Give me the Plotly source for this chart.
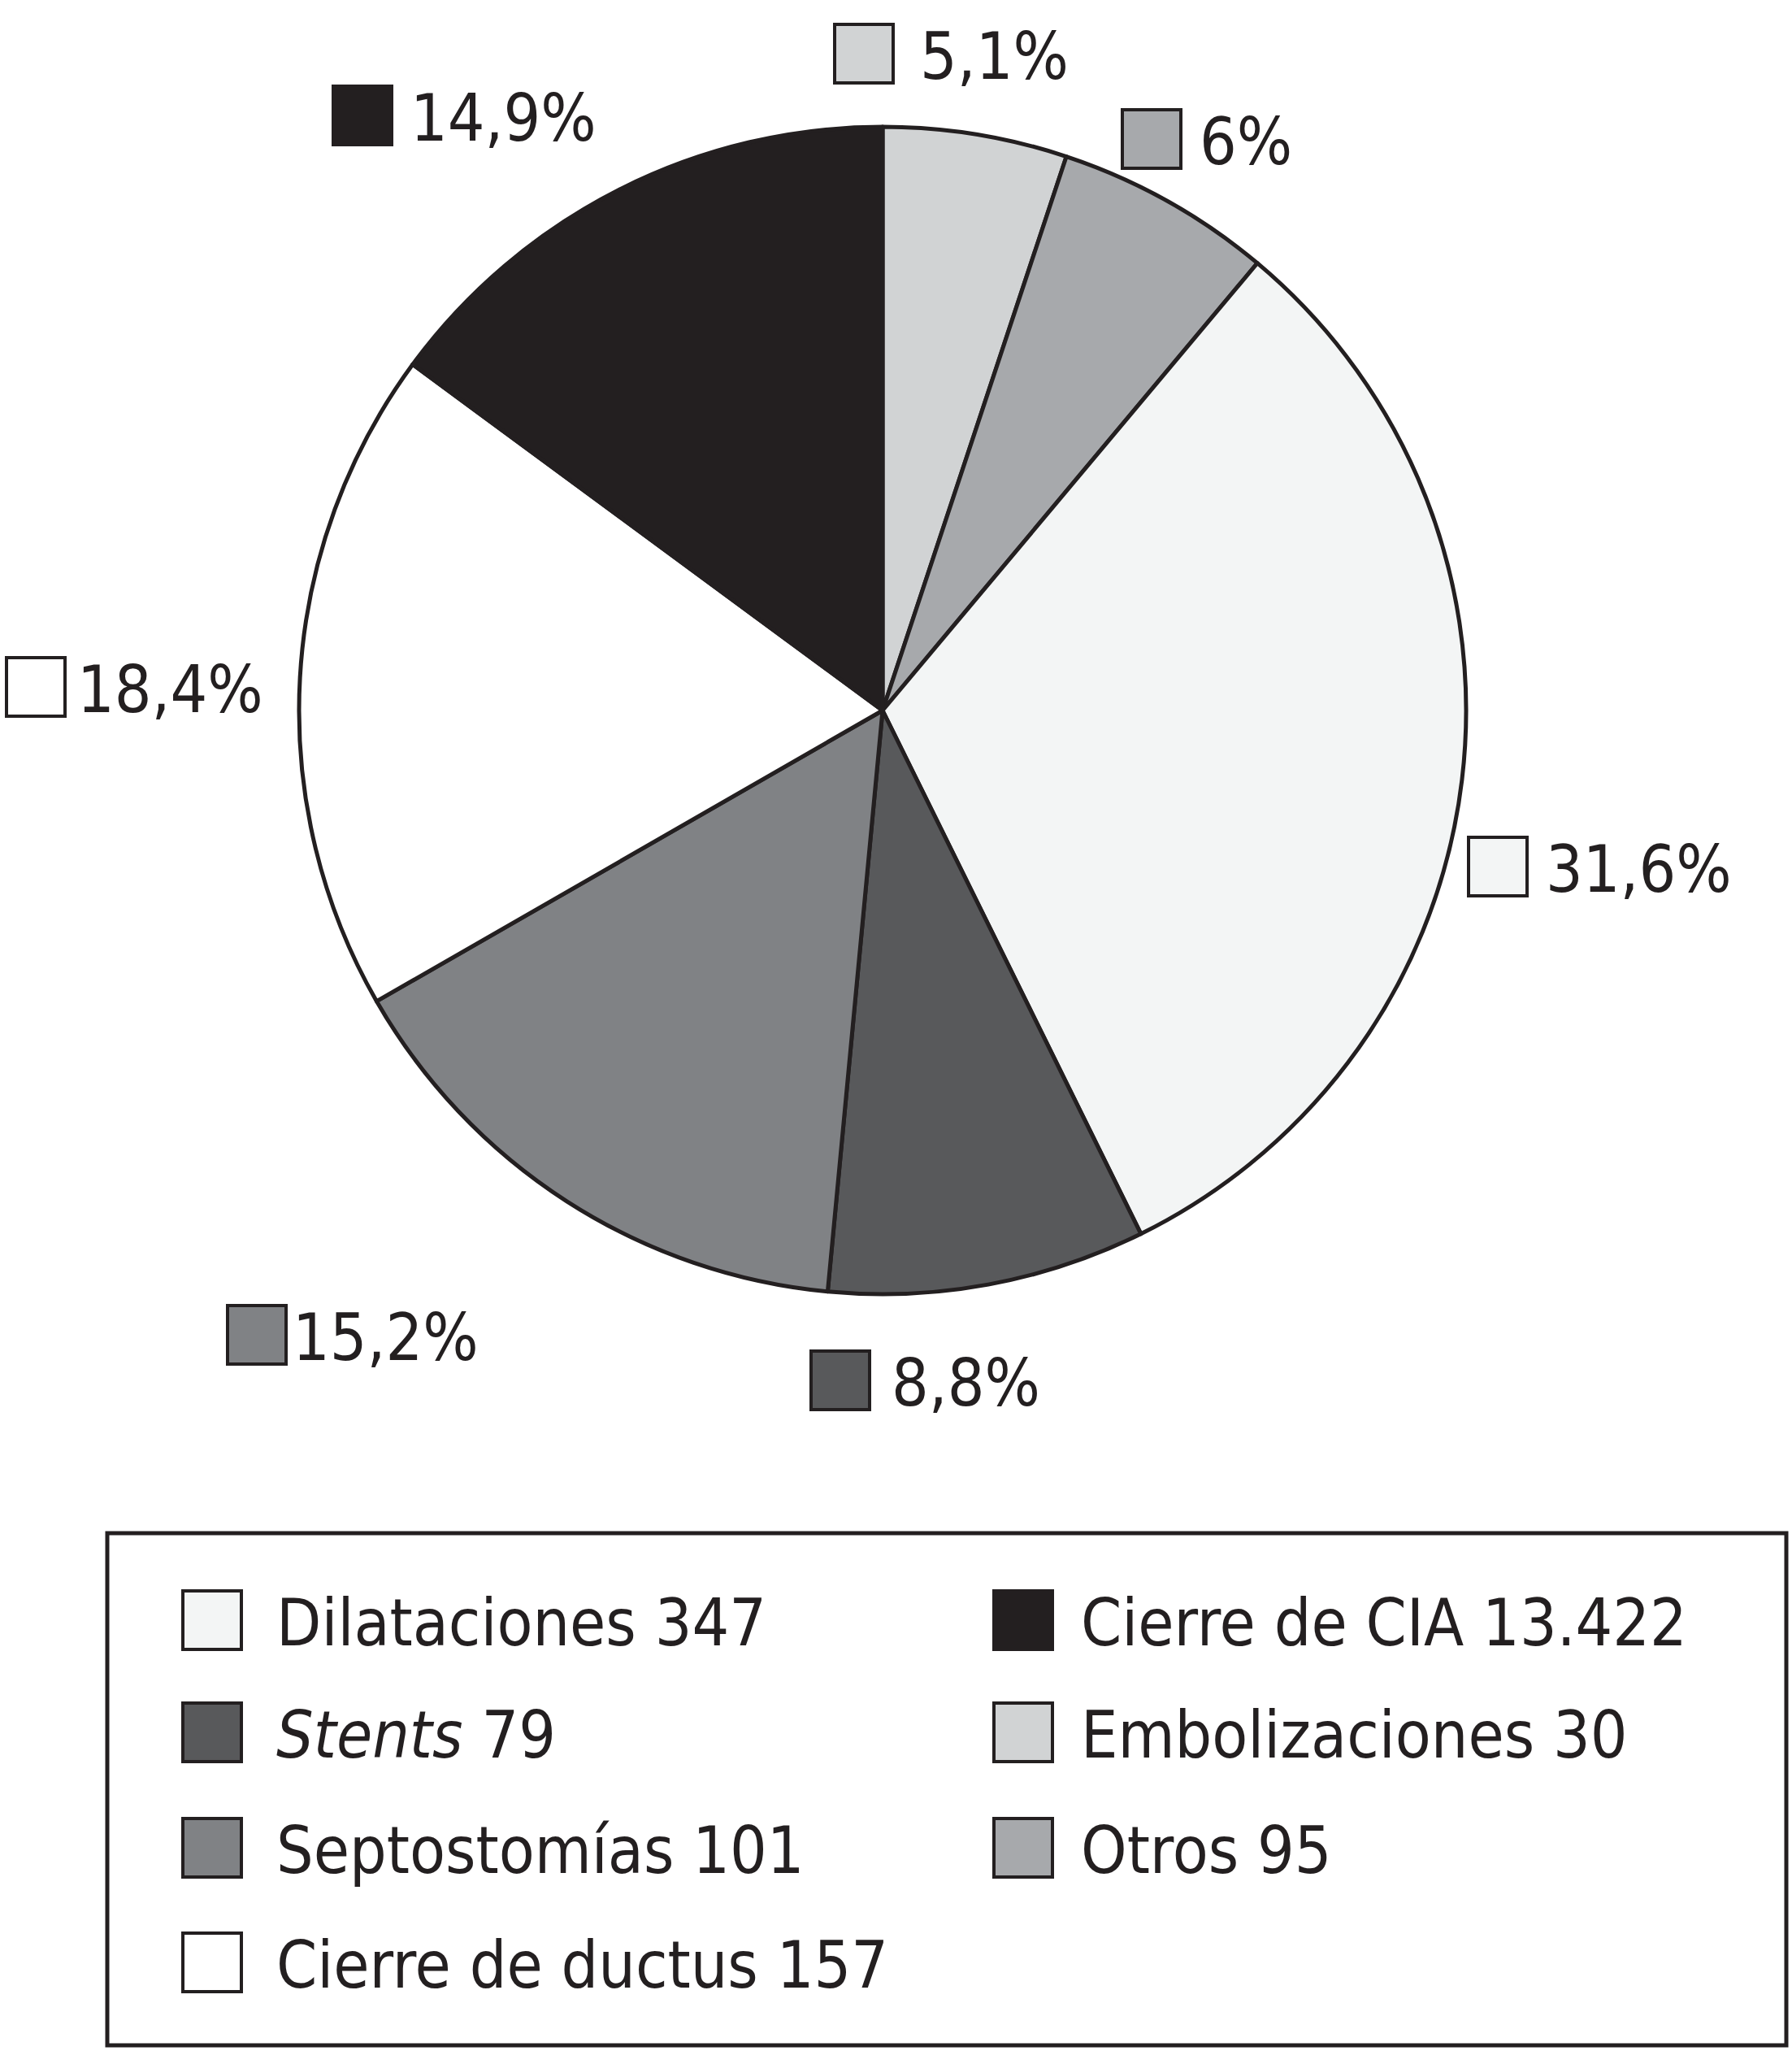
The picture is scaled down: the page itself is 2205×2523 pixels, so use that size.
import plotly.graph_objects as go

# ---- data ----
categories = ["Embolizaciones", "Otros", "Dilataciones", "Stents",
              "Septostomías", "Cierre de ductus", "Cierre de CIA"]
percent = [5.1, 6.0, 31.6, 8.8, 15.2, 18.4, 14.9]
percent_text = ["5,1%", "6%", "31,6%", "8,8%", "15,2%", "18,4%", "14,9%"]
counts_text = ["30", "95", "347", "79", "101", "157", "13.422"]
legend_names = ["Embolizaciones", "Otros", "Dilataciones", "<i>Stents</i>",
                "Septostomías", "Cierre de ductus", "Cierre de CIA"]
legend_order = ["Dilataciones", "Stents", "Septostomías", "Cierre de ductus",
                "Cierre de CIA", "Embolizaciones", "Otros"]

# ---- styles / layout ----
colors = ["#d1d3d4", "#a7a9ac", "#f3f5f5", "#58595b", "#808285", "#ffffff", "#231f20"]
INK = "#231f20"
FONT = "DejaVu Sans Condensed, sans-serif"
W, H = 2205, 2523
FS = 80

# pie geometry (pixels)
cx, cy, R = 1086, 874, 718

# percentage label placement (square left x, center y, text left x) in px
pct_pos = {
    "Embolizaciones": (1027, 66, 1130),
    "Otros": (1381, 171, 1474),
    "Dilataciones": (1807, 1066, 1900),
    "Stents": (998, 1698, 1095),
    "Septostomías": (280, 1642, 358),
    "Cierre de ductus": (8, 845, 93),
    "Cierre de CIA": (410, 142, 503),
}
SQ = 72

# legend geometry
box = (132, 1886, 2198, 2516)
col_sq_x = [225, 1223]
col_txt_x = [338, 1328]
row_y = [1993, 2131, 2273, 2414]

fig = go.Figure()
fig.add_trace(go.Pie(
    labels=categories, values=percent, marker=dict(colors=colors, line=dict(color=INK, width=5)),
    sort=False, direction="clockwise", rotation=0, textinfo="none", hoverinfo="label+percent",
    showlegend=False,
    domain=dict(x=[(cx - R) / W, (cx + R) / W], y=[(H - cy - R) / H, (H - cy + R) / H]),
))

shapes = []
annotations = []

def square(x0, yc, color):
    shapes.append(dict(type="rect", xref="x", yref="y", x0=x0, x1=x0 + SQ,
                       y0=yc - SQ / 2, y1=yc + SQ / 2, fillcolor=color,
                       line=dict(color=INK, width=4)))

def label(x, yc, text):
    annotations.append(dict(xref="x", yref="y", x=x, y=yc + 3, text=text, showarrow=False,
                            xanchor="left", yanchor="middle",
                            font=dict(family=FONT, size=FS, color=INK)))

for i, cat in enumerate(categories):
    sx, sy, tx = pct_pos[cat]
    square(sx, sy, colors[i])
    label(tx, sy, percent_text[i])

# legend box
shapes.append(dict(type="rect", xref="x", yref="y", x0=box[0], y0=box[1], x1=box[2], y1=box[3],
                   line=dict(color=INK, width=5), fillcolor="rgba(0,0,0,0)"))
for k, cat in enumerate(legend_order):
    i = categories.index(cat)
    col = 0 if k < 4 else 1
    row = k if k < 4 else k - 4
    square(col_sq_x[col], row_y[row], colors[i])
    label(col_txt_x[col], row_y[row], legend_names[i] + " " + counts_text[i])

fig.update_layout(
    width=W, height=H, margin=dict(l=0, r=0, t=0, b=0),
    paper_bgcolor="white", plot_bgcolor="rgba(0,0,0,0)",
    xaxis=dict(range=[0, W], visible=False, fixedrange=True),
    yaxis=dict(range=[H, 0], visible=False, fixedrange=True),
    shapes=shapes, annotations=annotations, showlegend=False,
)
fig.write_html(
    "out.html",
    config={"displayModeBar": False},
    post_script="document.body.style.margin='0';document.body.style.overflow='hidden';",
)
